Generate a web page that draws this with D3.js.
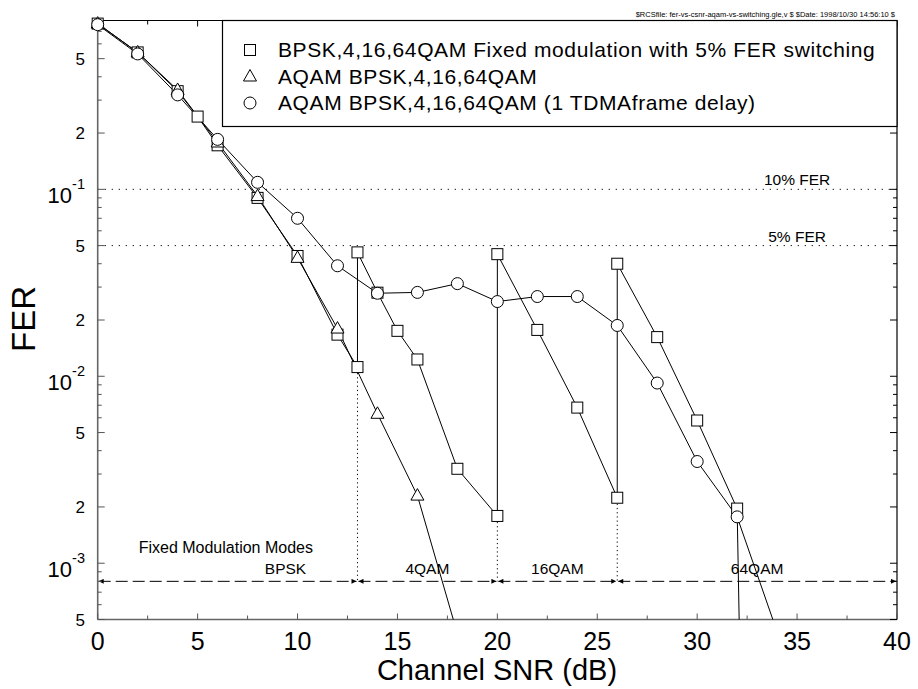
<!DOCTYPE html>
<html><head><meta charset="utf-8">
<script src="https://cdn.jsdelivr.net/npm/d3@7"></script>
<style>body{margin:0;background:#fff}svg{display:block}text{font-family:"Liberation Sans",Arial,sans-serif;fill:#000}</style>
</head><body><svg id="c" width="918" height="689"></svg>
<script>
// ---- data ----
const snrFixed = [0,2,4,5,6,8,10,12,13,13,14,15,16,18,20,20,22,24,26,26,28,30,32,34];
const ferFixed = [0.77,0.54,0.335,0.245,0.172,0.09,0.044,0.0167,0.0112,0.046,0.028,0.0175,0.0123,0.0032,0.00179,0.045,0.0177,0.0068,0.00224,0.040,0.0162,0.0058,0.00196,3e-15];
const snrAqam = [0,2,4,6,8,10,12,14,16,18];
const ferAqam = [0.77,0.54,0.34,0.178,0.092,0.043,0.018,0.0063,0.0023,0.00042];
const snrDelay = [0,2,4,6,8,10,12,14,16,18,20,22,24,26,28,30,32,34];
const ferDelay = [0.76,0.53,0.32,0.185,0.109,0.070,0.039,0.0278,0.0281,0.0313,0.0251,0.0267,0.0267,0.0187,0.0092,0.0035,0.00177,0.00043];
const legendLabels = ["BPSK,4,16,64QAM Fixed modulation with 5% FER switching","AQAM BPSK,4,16,64QAM","AQAM BPSK,4,16,64QAM (1 TDMAframe delay)"];
const modeBounds = [0,13,20,26,40];
const modeNames = ["BPSK","4QAM","16QAM","64QAM"];
const modeLabelPos = [9.4,16.5,23,33];
const modeLevel = 8e-4;
const ferRefs = [0.1,0.05];
const ferRefLabels = ["10% FER","5% FER"];
const xTickVals = [0,5,10,15,20,25,30,35,40];
const yLabelVals = [0.5,0.2,0.1,0.05,0.02,0.01,0.005,0.002,0.001,0.0005];
const yLabelMant = ["5","2",null,"5","2",null,"5","2",null,"5"];
const yLabelExp = [null,null,"-1",null,null,"-2",null,null,"-3",null];
const header = "$RCSfile: fer-vs-csnr-aqam-vs-switching.gle,v $ $Date: 1998/10/30 14:56:10 $";

// ---- layout ----
const svg = d3.select("#c");
const L=97.7, R=897, T=20.5, B=619.5;
const x = d3.scaleLinear().domain([0,40]).range([L,R]);
const y = d3.scaleLog().domain([5e-4,0.8]).range([B,T]);

const defs = svg.append("defs");
defs.append("clipPath").attr("id","clip").append("rect")
  .attr("x",L).attr("y",T).attr("width",R-L).attr("height",B-T);
defs.append("marker").attr("id","arr").attr("viewBox","0 0 10 10").attr("refX",10).attr("refY",5)
  .attr("markerWidth",6).attr("markerHeight",5).attr("markerUnits","userSpaceOnUse").attr("orient","auto-start-reverse")
  .append("path").attr("d","M0,0L10,5L0,10Z").attr("fill","#000");

// header
svg.append("text").attr("x",895).attr("y",17).attr("text-anchor","end").attr("font-size",7.5).text(header);

// reference dotted lines
const g = svg.append("g");
ferRefs.forEach((v,i)=>{
  g.append("line").attr("x1",L).attr("x2",R).attr("y1",y(v)).attr("y2",y(v))
    .attr("stroke","#000").attr("stroke-width",1).attr("stroke-dasharray","1.2,5.8");
  g.append("text").attr("x",x(35)).attr("y",y(v)-4).attr("text-anchor","middle").attr("font-size",15.5).text(ferRefLabels[i]);
});

// mode lines
for(let i=0;i<modeNames.length;i++){
  g.append("line").attr("x1",x(modeBounds[i])+1).attr("x2",x(modeBounds[i+1])-1)
    .attr("y1",y(modeLevel)).attr("y2",y(modeLevel)).attr("stroke","#000").attr("stroke-width",1)
    .attr("stroke-dasharray","12,5").attr("marker-start","url(#arr)").attr("marker-end","url(#arr)");
  g.append("text").attr("x",x(modeLabelPos[i])).attr("y",y(modeLevel)-7).attr("text-anchor","middle")
    .attr("font-size",15.5).text(modeNames[i]);
}
g.append("text").attr("x",x(2.05)).attr("y",y(modeLevel)-28).attr("font-size",16).text("Fixed Modulation Modes");
modeBounds.slice(1,-1).forEach(b=>{
  const lo = d3.min(snrFixed.map((s,i)=>s===b?ferFixed[i]:Infinity));
  g.append("line").attr("x1",x(b)).attr("x2",x(b)).attr("y1",y(lo)+6).attr("y2",y(modeLevel))
    .attr("stroke","#000").attr("stroke-width",1).attr("stroke-dasharray","1.2,3");
});

// axes frame
const ax = svg.append("g").attr("stroke","#000").attr("fill","none");
ax.append("line").attr("x1",L).attr("x2",R).attr("y1",T).attr("y2",T).attr("stroke-width",1.2);
ax.append("line").attr("x1",R).attr("x2",R).attr("y1",T).attr("y2",B).attr("stroke-width",1.2);
ax.append("line").attr("x1",L).attr("x2",L).attr("y1",T).attr("y2",B).attr("stroke","#666").attr("stroke-width",1.6);
ax.append("line").attr("x1",L).attr("x2",R).attr("y1",B).attr("y2",B).attr("stroke","#666").attr("stroke-width",1.6);
d3.range(0,40.01,2.5).forEach(v=>{
  const len = (v%5===0)?6:4;
  ax.append("line").attr("x1",x(v)).attr("x2",x(v)).attr("y1",B).attr("y2",B-len).attr("stroke","#555");
  ax.append("line").attr("x1",x(v)).attr("x2",x(v)).attr("y1",T).attr("y2",T+len);
});
const yMinor=[];
[-4,-3,-2,-1].forEach(e=>{for(let m=1;m<10;m++){const v=m*Math.pow(10,e); if(v>=5e-4-1e-12 && v<=0.8+1e-9) yMinor.push(v);}});
yMinor.forEach(v=>{
  const major = yLabelVals.some(u=>Math.abs(u-v)/v<1e-6);
  const len = major?7:4;
  ax.append("line").attr("x1",L).attr("x2",L+len).attr("y1",y(v)).attr("y2",y(v)).attr("stroke","#555");
  ax.append("line").attr("x1",R).attr("x2",R-len).attr("y1",y(v)).attr("y2",y(v));
});
xTickVals.forEach(v=>{
  svg.append("text").attr("x",x(v)).attr("y",650).attr("text-anchor","middle").attr("font-size",25).text(v);
});
yLabelVals.forEach((v,i)=>{
  if(yLabelMant[i]){
    svg.append("text").attr("x",85).attr("y",y(v)+6.3).attr("text-anchor","end").attr("font-size",17).text(yLabelMant[i]);
  } else {
    const t = svg.append("text").attr("x",85).attr("y",y(v)+13.5).attr("text-anchor","end").attr("font-size",22);
    t.append("tspan").text("10");
    t.append("tspan").attr("font-size",14.5).attr("dy",-14).text(yLabelExp[i]);
  }
});
svg.append("text").attr("x",497).attr("y",680).attr("text-anchor","middle").attr("font-size",29).text("Channel SNR (dB)");
svg.append("text").attr("transform","translate(35,352) rotate(-90)").attr("text-anchor","start").attr("font-size",33).text("FER");

// series
const line = d3.line().x(d=>x(d[0])).y(d=>y(d[1]));
const plot = svg.append("g");
const series = [
  {s:snrFixed,f:ferFixed,sym:"sq"},
  {s:snrAqam,f:ferAqam,sym:"tri"},
  {s:snrDelay,f:ferDelay,sym:"circ"}
];
series.forEach(se=>{
  const pts = se.s.map((s,i)=>[s,se.f[i]]);
  plot.append("path").attr("d",line(pts)).attr("clip-path","url(#clip)")
    .attr("fill","none").attr("stroke","#000").attr("stroke-width",1);
});
function sym(gg,type,cx,cy){
  if(type==="sq") gg.append("rect").attr("x",cx-5.5).attr("y",cy-5.5).attr("width",11).attr("height",11);
  else if(type==="tri") gg.append("path").attr("d",`M${cx},${cy-7}L${cx+6.5},${cy+4.5}L${cx-6.5},${cy+4.5}Z`);
  else gg.append("circle").attr("cx",cx).attr("cy",cy).attr("r",6);
}
const mk = svg.append("g").attr("fill","#fff").attr("stroke","#000").attr("stroke-width",1);
series.forEach(se=>{
  se.s.forEach((s,i)=>{ if(se.f[i]>=5e-4) sym(mk,se.sym,x(s),y(se.f[i])); });
});

// legend
const lg = svg.append("g");
lg.append("rect").attr("x",222.5).attr("y",T).attr("width",R-222.5).attr("height",106)
  .attr("fill","#fff").attr("stroke","#000").attr("stroke-width",1.2);
const lm = lg.append("g").attr("fill","#fff").attr("stroke","#000").attr("stroke-width",1);
legendLabels.forEach((t,i)=>{
  const cy = 50+i*26.5;
  sym(lm,series[i].sym,250,cy);
  lg.append("text").attr("x",278).attr("y",cy+7.3).attr("font-size",21).attr("letter-spacing",0.6).text(t);
});
</script></body></html>
